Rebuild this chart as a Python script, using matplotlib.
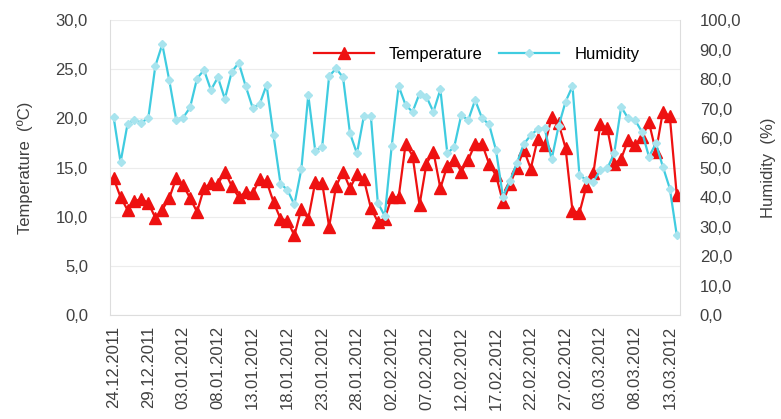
import numpy as np
import pandas as pd
import matplotlib
matplotlib.use("Agg")
import matplotlib.pyplot as plt

# daily readings 24.12.2011 - 14.03.2012
dates = pd.date_range("2011-12-24", "2012-03-14", freq="D")

temperature = [13.9, 12.0, 10.7, 11.6, 11.8, 11.4, 9.9, 10.7, 11.9, 13.9,
               13.2, 11.9, 10.5, 12.9, 13.4, 13.3, 14.6, 13.1, 12.0, 12.5,
               12.4, 13.8, 13.6, 11.5, 9.8, 9.6, 8.1, 10.8, 9.8, 13.5,
               13.4, 9.0, 13.1, 14.6, 12.9, 14.3, 13.8, 10.9, 9.5, 9.8,
               12.0, 12.0, 17.4, 16.2, 11.2, 15.4, 16.6, 12.9, 15.2, 15.8,
               14.6, 15.8, 17.4, 17.4, 15.4, 14.2, 11.5, 13.3, 15.0, 16.8,
               14.9, 17.9, 17.3, 20.1, 19.5, 17.0, 10.6, 10.4, 13.1, 14.4,
               19.4, 19.0, 15.4, 15.9, 17.8, 17.3, 18.1, 19.6, 16.6, 20.7,
               20.2, 12.2]

humidity = [67.2, 51.8, 64.7, 66.3, 65.2, 66.9, 84.4, 91.8, 79.7, 66.3,
            66.9, 70.4, 80.2, 83.1, 76.3, 80.6, 73.3, 82.5, 85.5, 77.6,
            70.3, 71.5, 78.0, 61.0, 44.6, 42.4, 37.5, 49.4, 74.6, 55.7,
            57.1, 81.0, 83.6, 80.6, 61.6, 54.8, 67.5, 67.5, 38.1, 33.6,
            57.3, 77.6, 71.2, 68.9, 75.1, 74.0, 68.9, 76.5, 54.8, 57.1,
            67.8, 66.1, 72.9, 66.7, 64.7, 55.9, 40.1, 45.5, 51.5, 58.0,
            61.0, 63.0, 63.3, 52.8, 64.0, 72.3, 77.6, 47.5, 45.8, 45.2,
            49.2, 49.7, 54.8, 70.6, 66.7, 66.1, 62.1, 53.7, 58.2, 50.3,
            42.9, 27.1]

plt.rcParams['font.family'] = ['Liberation Sans', 'DejaVu Sans']
txt = '#404040'

def comma(v):
    return ("%.1f" % v).replace('.', ',')

fig = plt.figure(figsize=(7.81, 4.19), dpi=100)
ax = fig.add_axes([0.141, 0.248, 0.730, 0.704])
ax2 = ax.twinx()

x = np.arange(len(dates))
l1, = ax.plot(x, temperature, color='#ee1111', lw=1.6, marker='^', ms=8,
              label='Temperature')
l2, = ax2.plot(x, humidity, color='#40cce0', lw=1.6, marker='D', ms=4.5,
               mfc='#a8e4ee', mec='#a8e4ee', label='Humidity')

ax.set_xlim(-0.5, len(dates) - 0.5)
ax.set_ylim(0, 30)
ax2.set_ylim(0, 100)
ax.set_yticks(np.arange(0, 31, 5))
ax.set_yticklabels([comma(v) for v in np.arange(0, 31, 5)])
ax2.set_yticks(np.arange(0, 101, 10))
ax2.set_yticklabels([comma(v) for v in np.arange(0, 101, 10)])

ticks = x[::5]
ax.set_xticks(ticks)
ax.set_xticklabels([dates[i].strftime("%d.%m.%Y") for i in ticks], rotation=90)

ax.grid(axis='y', color='#ececec', lw=0.8)
for a in (ax, ax2):
    for s in a.spines.values():
        s.set_visible(False)
    a.tick_params(length=0, colors=txt, labelsize=12)
ax.spines['left'].set_visible(True)
ax.spines['left'].set_color('#dddddd')
ax.spines['bottom'].set_visible(True)
ax.spines['bottom'].set_color('#dddddd')
ax2.spines['right'].set_visible(True)
ax2.spines['right'].set_color('#dddddd')
ax.tick_params(axis='y', pad=16)
ax2.tick_params(axis='y', pad=14)
ax.tick_params(axis='x', pad=8)

ax.set_ylabel('Temperature  (ºC)', color=txt, fontsize=12, labelpad=16)
ax2.set_ylabel('Humidity  (%)', color=txt, fontsize=12, labelpad=14)

ax2.legend([l1, l2], ['Temperature', 'Humidity'], loc='upper right',
           bbox_to_anchor=(0.955, 0.96), ncol=2, frameon=False, fontsize=12,
           handlelength=3.6, handletextpad=0.9, columnspacing=1.0)

fig.savefig("out.png")
